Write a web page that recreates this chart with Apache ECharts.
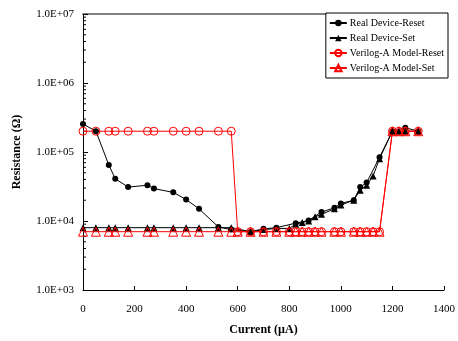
<!DOCTYPE html>
<html>
<head>
<meta charset="utf-8">
<script src="https://cdn.jsdelivr.net/npm/echarts@6/dist/echarts.min.js"></script>
<style>
  html, body { margin: 0; padding: 0; background: #fff; }
  #chart { width: 458px; height: 341px; }
</style>
</head>
<body>
<div id="chart"></div>
<script>
  // data (current in uA, resistance in ohm)
  var realResetX = [0, 50, 100, 125, 175, 250, 275, 350, 400, 450, 525, 575, 650, 700, 750, 825, 875, 925, 975, 1000, 1050, 1075, 1100, 1150, 1200, 1250, 1300]
  var realResetY = [255000, 200000, 65000, 41000, 31000, 33000, 29500, 26000, 20500, 15000, 8200, 7500, 7000, 7700, 8000, 9300, 10200, 13500, 15500, 18000, 20000, 31000, 36000, 84000, 200000, 225000, 200000]

  var realSetX = [0, 50, 100, 125, 175, 250, 275, 350, 400, 450, 525, 575, 650, 700, 750, 800, 825, 850, 875, 900, 925, 975, 1000, 1050, 1075, 1100, 1125, 1150, 1200, 1225, 1250, 1300]
  var realSetY = [8000, 8000, 8000, 8000, 8000, 8000, 8000, 8000, 8000, 8000, 8000, 8000, 7000, 7500, 7800, 7800, 9000, 9500, 10000, 11500, 12500, 15000, 17000, 20000, 28000, 33000, 45000, 80000, 200000, 200000, 200000, 200000]

  var modelX = [0, 50, 100, 125, 175, 250, 275, 350, 400, 450, 525, 575, 600, 650, 700, 750, 800, 825, 850, 875, 900, 925, 975, 1000, 1050, 1075, 1100, 1125, 1150, 1200, 1225, 1250, 1300]
  var modelResetY = [200000, 200000, 200000, 200000, 200000, 200000, 200000, 200000, 200000, 200000, 200000, 200000, 7000, 7000, 7000, 7000, 7000, 7000, 7000, 7000, 7000, 7000, 7000, 7000, 7000, 7000, 7000, 7000, 7000, 200000, 200000, 200000, 200000]
  var modelSetY = [7000, 7000, 7000, 7000, 7000, 7000, 7000, 7000, 7000, 7000, 7000, 7000, 7000, 7000, 7000, 7000, 7000, 7000, 7000, 7000, 7000, 7000, 7000, 7000, 7000, 7000, 7000, 7000, 7000, 200000, 200000, 200000, 200000]

  var seriesNames = ['Real Device-Reset', 'Real Device-Set', 'Verilog-A Model-Reset', 'Verilog-A Model-Set']

  // log minor tick positions on the y axis
  var minorTickValues = []
  ;[1e3, 1e4, 1e5, 1e6].forEach(function (d) {
    for (var k = 2; k <= 9; k++) minorTickValues.push(k * d)
  })

  function zip(xs, ys) {
    return xs.map(function (x, i) { return [x, ys[i]] })
  }

  var font = 'Liberation Serif'

  var chart = echarts.init(document.getElementById('chart'))

  chart.setOption({
    animation: false,
    grid: { left: 83, right: 11, top: 14, bottom: 50 },
    legend: {
      data: seriesNames,
      orient: 'vertical',
      right: 10,
      top: 13,
      align: 'left',
      padding: [5, 4, 5, 3],
      itemGap: 5,
      itemWidth: 17,
      itemHeight: 8,
      borderColor: '#000',
      borderWidth: 1,
      backgroundColor: '#fff',
      textStyle: { fontFamily: font, fontSize: 10, color: '#000', padding: [0, 0, 0, -2] }
    },
    xAxis: [
      {
        type: 'value',
        min: 0,
        max: 1400,
        interval: 200,
        name: 'Current (\u00b5A)',
        nameLocation: 'middle',
        nameGap: 34,
        nameTextStyle: { fontFamily: font, fontSize: 12, fontWeight: 'bold', color: '#000' },
        axisLine: { lineStyle: { color: '#000', width: 1 } },
        axisTick: { inside: true, length: 4, lineStyle: { color: '#000' } },
        axisLabel: {
          fontFamily: font,
          fontSize: 11,
          color: '#000',
          margin: 14,
          formatter: function (v) { return String(v) }
        },
        splitLine: { show: false }
      },
      {
        type: 'value',
        position: 'top',
        min: 0,
        max: 1400,
        axisLine: { show: true, lineStyle: { color: '#808080', width: 2 } },
        axisTick: { show: false },
        axisLabel: { show: false },
        splitLine: { show: false }
      }
    ],
    yAxis: [
      {
        type: 'log',
        logBase: 10,
        min: 1000,
        max: 10000000,
        name: 'Resistance (\u03a9)',
        nameLocation: 'middle',
        nameGap: 60,
        nameTextStyle: { fontFamily: font, fontSize: 12, fontWeight: 'bold', color: '#000' },
        axisLine: { show: true, lineStyle: { color: '#000', width: 1 } },
        axisTick: { inside: true, length: 5, lineStyle: { color: '#000' } },
        axisLabel: {
          fontFamily: font,
          fontSize: 11,
          color: '#000',
          margin: 9,
          formatter: function (v) {
            var e = Math.round(Math.log10(v))
            return '1.0E+' + (e < 10 ? '0' : '') + e
          }
        },
        splitLine: { show: false }
      },
      {
        type: 'log',
        position: 'right',
        min: 1000,
        max: 10000000,
        axisLine: { show: true, lineStyle: { color: '#000', width: 1 } },
        axisTick: { show: false },
        axisLabel: { show: false },
        splitLine: { show: false }
      }
    ],
    series: [
      {
        name: 'Real Device-Reset',
        type: 'line',
        data: zip(realResetX, realResetY),
        symbol: 'circle',
        symbolSize: 6,
        color: '#000',
        lineStyle: { color: '#000', width: 1 },
        itemStyle: { color: '#000' }
      },
      {
        name: 'Real Device-Set',
        type: 'line',
        data: zip(realSetX, realSetY),
        symbol: 'triangle',
        symbolSize: 7,
        color: '#000',
        lineStyle: { color: '#000', width: 1 },
        itemStyle: { color: '#000' }
      },
      {
        name: 'Verilog-A Model-Reset',
        type: 'line',
        data: zip(modelX, modelResetY),
        symbol: 'circle',
        symbolSize: 8,
        color: '#ff0000',
        lineStyle: { color: '#ff0000', width: 1 },
        itemStyle: { color: 'rgba(255,255,255,0)', borderColor: '#ff0000', borderWidth: 1 }
      },
      {
        name: 'Verilog-A Model-Set',
        type: 'line',
        data: zip(modelX, modelSetY),
        symbol: 'triangle',
        symbolSize: 9,
        color: '#ff0000',
        lineStyle: { color: '#ff0000', width: 1 },
        itemStyle: { color: 'rgba(255,255,255,0)', borderColor: '#ff0000', borderWidth: 1 }
      },
      {
        name: 'minorTicks',
        type: 'custom',
        silent: true,
        data: minorTickValues.map(function (v) { return [0, v] }),
        renderItem: function (params, api) {
          var p = api.coord([0, api.value(1)])
          return {
            type: 'line',
            shape: { x1: p[0], y1: p[1], x2: p[0] + 3, y2: p[1] },
            style: { stroke: '#000', lineWidth: 1 }
          }
        }
      }
    ]
  })
</script>
</body>
</html>
